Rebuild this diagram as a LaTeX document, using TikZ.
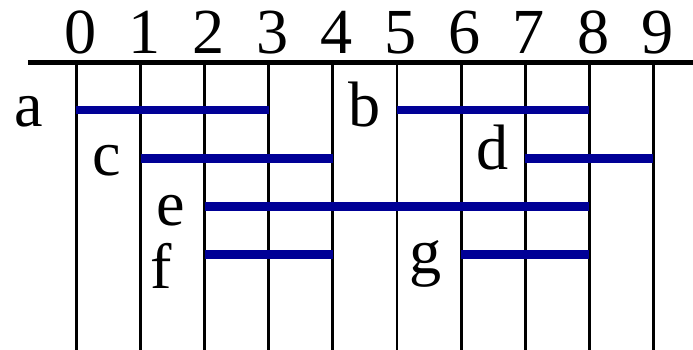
\documentclass[tikz,border=0pt]{standalone}
\usepackage{fontspec}
\setmainfont{Liberation Serif}
\usetikzlibrary{positioning}

\definecolor{barblue}{RGB}{0,0,150}

\begin{document}
\begin{tikzpicture}[font=\fontsize{28.5}{34}\selectfont,
    axis/.style={line width=2.2pt},
    grid/.style={line width=1.3pt},
    bar/.style={line width=3.8pt, barblue},
    num/.style={anchor=base, inner sep=0pt},
    lab/.style={anchor=base, inner sep=0pt}]

\useasboundingbox (-1.193,0.978) rectangle (9.618,-4.467);

\draw [axis] (-0.757,0) -- (9.618,0);

\foreach \i in {0,...,9} {
    \draw [grid] (\i,0) -- (\i,-4.5);
    \node [num] (n\i) at (\i+0.06,0.136) {\i};
}

% intervals
\draw [bar] (0,-0.738) -- (3,-0.738);
\draw [bar] (5,-0.738) -- (8,-0.738);
\draw [bar] (1,-1.494) -- (4,-1.494);
\draw [bar] (7,-1.494) -- (9,-1.494);
\draw [bar] (2,-2.243) -- (8,-2.243);
\draw [bar] (2,-2.992) -- (4,-2.992);
\draw [bar] (6,-2.992) -- (8,-2.992);

\node [lab] (la) at (-0.749,-1.003) {a};
\node [lab] (lb) at (4.501,-1.003) {b};
\node [lab] (lc) at (0.476,-1.752) {c};
\node [lab] (ld) at (6.498,-1.660) {d};
\node [lab] (le) at (1.474,-2.532) {e};
\node [lab] (lf) at (1.318,-3.530) {f};
\node [lab] (lg) at (5.452,-3.281) {g};

\end{tikzpicture}
\end{document}
